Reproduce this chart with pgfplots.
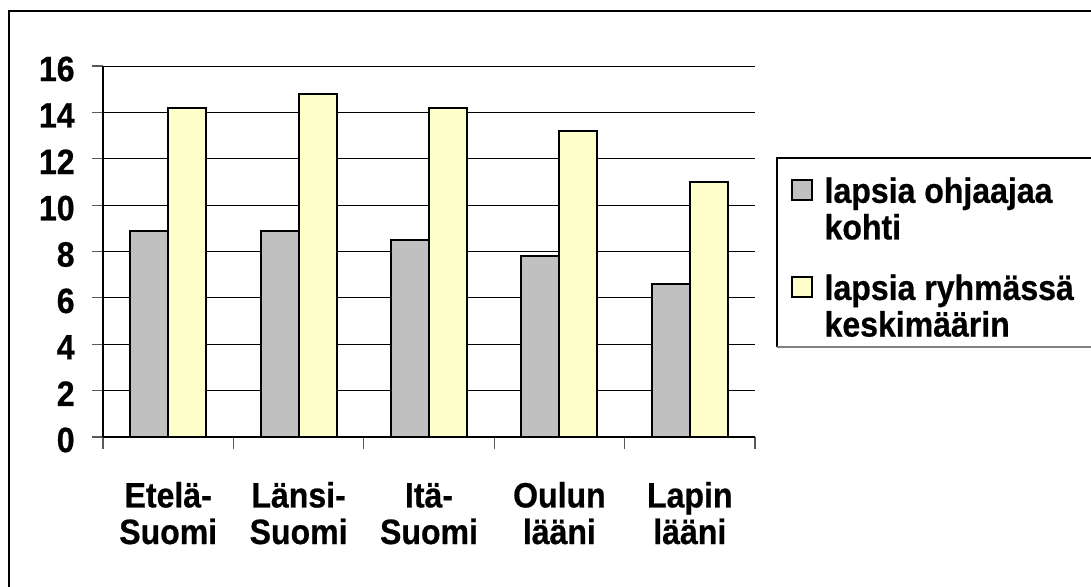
\documentclass[border=0pt]{standalone}
\usepackage{fontspec}
\setmainfont{Liberation Sans}[BoldFeatures={FakeStretch=0.91, FakeBold=0.6}]
\usepackage{pgfplots}
\pgfplotsset{compat=1.18}
\definecolor{bargray}{HTML}{C0C0C0}
\definecolor{baryellow}{HTML}{FFFFCC}
\newcommand{\chartfont}{\bfseries\fontsize{17.6}{18.3}\selectfont}
\begin{document}
\begin{tikzpicture}[font=\chartfont]
\useasboundingbox (0,0) rectangle (545.5pt,293pt);
\begin{axis}[
  at={(51.5pt,74.5pt)}, anchor=south west,
  scale only axis, width=326pt, height=185.5pt,
  ybar=0pt, bar width=19pt,
  every axis plot post/.append style={/pgfplots/legend image code/.code={\draw[##1, line width=0.8pt] (0pt,5pt) rectangle (10pt,15pt);}},
  xmin=-0.5, xmax=4.5, ymin=0, ymax=16,
  xtick={0,1,2,3,4},
  xticklabels={Etelä-\\Suomi, Länsi-\\Suomi, Itä-\\Suomi, Oulun\\lääni, Lapin\\lääni},
  minor xtick={-0.5,0.5,1.5,2.5,3.5,4.5},
  ytick={0,2,...,16},
  axis x line*=bottom, axis y line*=left,
  axis line style={black, line width=0.7pt},
  tick align=outside,
  major tick length=5.5pt, minor tick length=6pt,
  major x tick style={draw=none},
  minor x tick style={gray!70!black, line width=0.6pt},
  major y tick style={gray!70!black, line width=0.6pt},
  ymajorgrids, major grid style={black, line width=0.5pt},
  /pgf/number format/assume math mode=true,
  tick label style={font=\chartfont},
  xticklabel style={align=center, inner sep=0pt, anchor=base, yshift=-48pt},
  yticklabel style={inner sep=0pt, xshift=-8.5pt, yshift=-1.5pt},
  legend cell align=left,
  legend style={at={(axis description cs:1.0552,0.70)}, anchor=north west,
    draw=none, fill=none, inner sep=0pt, outer sep=0pt, row sep=16pt, column sep=6pt,
    nodes={inner sep=0pt, align=left},
    font=\chartfont},
]
\addplot[fill=bargray, draw=black, line width=1pt] coordinates {(0,8.9) (1,8.9) (2,8.5) (3,7.8) (4,6.6)};
\addlegendentry{lapsia ohjaajaa\\kohti}
\addplot[fill=baryellow, draw=black, line width=1pt] coordinates {(0,14.2) (1,14.8) (2,14.2) (3,13.2) (4,11.0)};
\addlegendentry{lapsia ryhmässä\\keskimäärin}
\end{axis}
\draw[line width=1.2pt] (4.5pt,-5pt) -- (4.5pt,287.5pt) -- (560pt,287.5pt);
\draw[black, line width=0.6pt] (560pt,214pt) -- (388.5pt,214pt) -- (388.5pt,119.5pt);
\draw[gray, line width=0.8pt] (388.5pt,119.5pt) -- (560pt,119.5pt);
\end{tikzpicture}
\end{document}
